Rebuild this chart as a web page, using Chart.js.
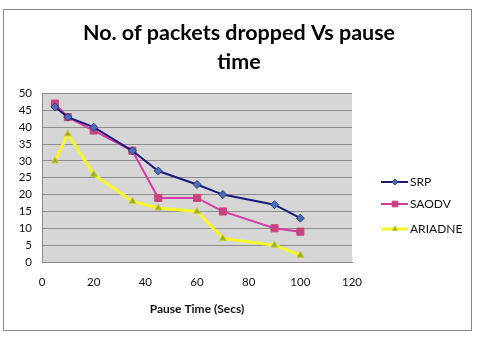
<!DOCTYPE html>
<html><head><meta charset="utf-8">
<script src="https://cdn.jsdelivr.net/npm/chart.js@4/dist/chart.umd.min.js"></script>
<style>html,body{margin:0;padding:0;background:#fff}#w{width:478px;height:338px}</style>
</head><body><div id="w"><canvas id="c" width="478" height="338"></canvas></div>
<script>
const pauseTimes = [5, 10, 20, 35, 45, 60, 70, 90, 100];
const srp = [46, 43, 40, 33, 27, 23, 20, 17, 13];
const saodv = [47, 43, 39, 33, 19, 19, 15, 10, 9];
const ariadne = [30, 38, 26, 18, 16, 15, 7, 5, 2];
const seriesNames = ['SRP', 'SAODV', 'ARIADNE'];
const titleLines = ['No. of packets dropped Vs pause', 'time'];
const xTitle = 'Pause Time (Secs)';

const FONT = 'Lato, "Open Sans", sans-serif';
const pts = arr => pauseTimes.map((x, i) => ({x, y: arr[i]}));

const frame = {
  id: 'frame',
  beforeDraw(chart) {
    const {ctx, chartArea: a} = chart;
    ctx.save();
    ctx.fillStyle = '#fff';
    ctx.fillRect(0, 0, chart.width, chart.height);
    ctx.strokeStyle = '#8a8a8a';
    ctx.lineWidth = 1;
    ctx.strokeRect(3.5, 9.5, 468, 321);
    ctx.fillStyle = '#d6d6d6';
    ctx.fillRect(a.left, a.top, a.right - a.left, a.bottom - a.top);
    ctx.restore();
  }
};

const legendPlugin = {
  id: 'customLegend',
  afterDraw(chart) {
    const {ctx} = chart;
    const ys = [182, 204, 229];
    ctx.save();
    chart.data.datasets.forEach((ds, i) => {
      const y = ys[i];
      ctx.strokeStyle = ds.borderColor;
      ctx.lineWidth = ds.borderWidth;
      ctx.beginPath(); ctx.moveTo(381, y); ctx.lineTo(408, y); ctx.stroke();
      ctx.fillStyle = ds.pointBackgroundColor;
      ctx.strokeStyle = ds.pointBorderColor;
      ctx.lineWidth = 1;
      Chart.helpers.drawPoint(ctx, {pointStyle: ds.pointStyle, radius: ds.pointRadius - 1, borderWidth: 1}, 395, y);
      ctx.fillStyle = '#111';
      ctx.font = '12px ' + FONT;
      ctx.textBaseline = 'middle';
      ctx.textAlign = 'left';
      ctx.fillText(ds.label, 410, y);
    });
    ctx.restore();
  }
};

new Chart(document.getElementById('c'), {
  type: 'scatter',
  data: {
    datasets: [
      {label: seriesNames[0], data: pts(srp), showLine: true, borderColor: '#1c1a78', borderWidth: 2,
       pointStyle: 'rectRot', pointRadius: 4, pointBackgroundColor: '#4a6db5', pointBorderColor: '#2d3f8a', pointBorderWidth: 1},
      {label: seriesNames[1], data: pts(saodv), showLine: true, borderColor: '#d83aa8', borderWidth: 2,
       pointStyle: 'rect', pointRadius: 5, pointBackgroundColor: '#c8427d', pointBorderColor: '#c8427d', pointBorderWidth: 1},
      {label: seriesNames[2], data: pts(ariadne), showLine: true, borderColor: '#f5f52a', borderWidth: 3,
       pointStyle: 'triangle', pointRadius: 4, pointBackgroundColor: '#9aad2c', pointBorderColor: '#c8d030', pointBorderWidth: 1}
    ]
  },
  options: {
    responsive: false,
    animation: false,
    layout: {padding: 0},
    plugins: {
      legend: {display: false},
      tooltip: {enabled: false},
      title: {
        display: true, text: titleLines, color: '#000',
        font: {family: FONT, size: 21.5, weight: 'bold', lineHeight: 1.36},
        padding: {top: 18, bottom: 17}
      }
    },
    scales: {
      x: {
        type: 'linear', min: 0, max: 120,
        ticks: {stepSize: 20, color: '#111', font: {family: FONT, size: 11.5}, padding: 13},
        grid: {display: false, drawTicks: false},
        border: {display: true, color: '#8a8a8a'},
        title: {display: true, text: xTitle, color: '#111', font: {family: FONT, size: 12, weight: 'bold'}, padding: {top: 9, bottom: 22}},
        afterFit(s) { s.height = 76; }
      },
      y: {
        min: 0, max: 50,
        ticks: {stepSize: 5, color: '#111', font: {family: FONT, size: 11.5}, padding: 10},
        grid: {color: '#8c8c8c', drawTicks: false},
        border: {display: true, color: '#8a8a8a'},
        afterFit(s) { s.width = 42; }
      },
      spacer: {
        position: 'right', display: true,
        grid: {display: false, drawTicks: false},
        border: {display: false},
        ticks: {display: false},
        afterFit(s) { s.width = 126; }
      }
    }
  },
  plugins: [frame, legendPlugin]
});
</script></body></html>
